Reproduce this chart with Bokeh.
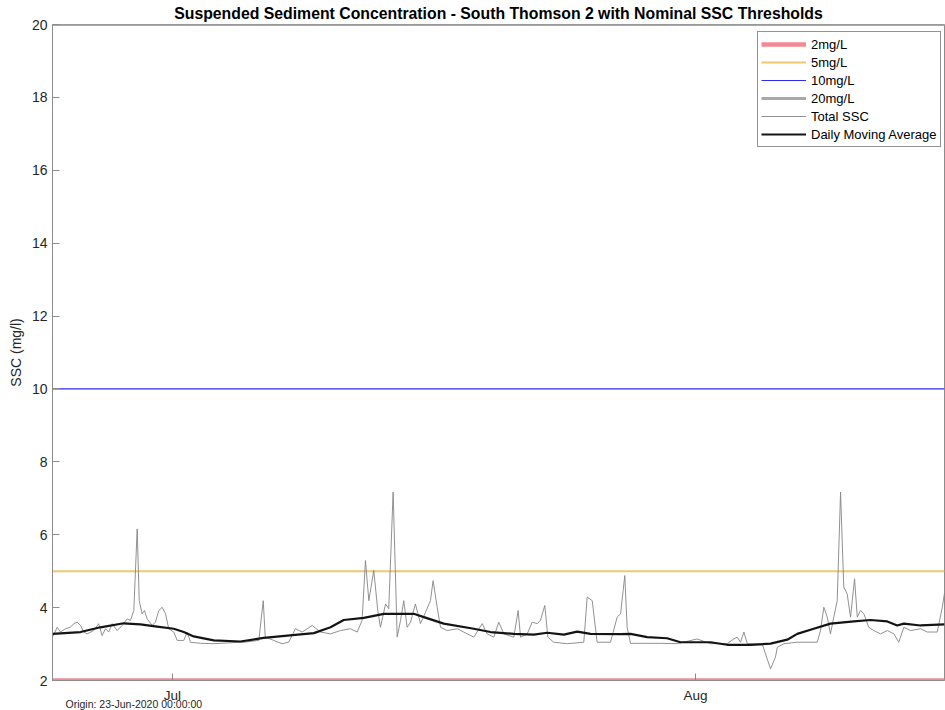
import pandas as pd
from bokeh.plotting import figure
from bokeh.models import Range1d, FixedTicker, Legend, LegendItem, Title
from bokeh.embed import file_html
from bokeh.resources import INLINE

# Time is stored as days since the origin below
origin_text = "23-Jun-2020 00:00:00"
origin = pd.Timestamp("2020-06-23 00:00:00")

ssc_days = [0.89, 1.17, 1.36, 1.66, 1.95, 2.15, 2.35, 2.55, 2.74, 2.94, 3.33, 3.63, 3.83, 4.03,
            4.22, 4.43, 4.72, 5.02, 5.31, 5.51, 5.71, 5.91, 6.03, 6.20, 6.34, 6.50, 6.80, 6.99,
            7.19, 7.39, 7.59, 7.78, 8.08, 8.28, 8.67, 8.87, 9.07, 9.66, 10.45, 12.03, 12.23,
            13.12, 13.38, 13.50, 14.00, 14.50, 14.89, 15.29, 15.69, 16.28, 16.77, 17.37, 17.96,
            18.55, 18.95, 19.24, 19.44, 19.64, 19.93, 20.17, 20.33, 20.63, 20.82, 21.08, 21.32,
            21.52, 21.71, 21.91, 22.11, 22.40, 22.70, 23.00, 23.29, 23.45, 23.69, 23.89, 24.28,
            24.88, 25.47, 25.86, 26.36, 26.65, 27.05, 27.34, 27.64, 28.23, 28.49, 28.63, 29.03,
            29.32, 29.62, 29.81, 30.07, 30.25, 30.60, 31.40, 32.38, 32.58, 32.88, 33.17, 33.96,
            34.36, 34.56, 34.81, 34.95, 35.15, 35.94, 36.93, 37.92, 39.10, 39.89, 40.88, 41.27,
            41.47, 41.67, 41.87, 42.07, 42.96, 43.15, 43.45, 43.74, 43.85, 44.24, 45.03, 46.22,
            46.41, 46.61, 46.81, 47.00, 47.20, 47.40, 47.60, 47.79, 47.99, 48.19, 48.43, 48.59,
            48.78, 48.98, 49.27, 49.57, 49.97, 50.37, 50.76, 51.05, 51.35, 51.75, 52.34, 52.74,
            53.33, 53.63, 53.76]
ssc_vals = [3.19, 3.46, 3.33, 3.42, 3.46, 3.56, 3.60, 3.51, 3.33, 3.28, 3.37, 3.56, 3.23, 3.42,
            3.33, 3.56, 3.37, 3.51, 3.69, 3.65, 3.92, 6.16, 4.19, 3.83, 3.92, 3.69, 3.51, 3.60,
            3.92, 4.01, 3.83, 3.42, 3.33, 3.10, 3.10, 3.33, 3.05, 3.02, 3.01, 3.05, 3.05,
            3.10, 4.19, 3.19, 3.10, 3.01, 3.05, 3.42, 3.33, 3.51, 3.33, 3.28, 3.37,
            3.42, 3.33, 3.65, 5.29, 4.19, 5.02, 3.92, 3.46, 4.10, 3.97, 7.17, 3.19,
            3.65, 4.19, 3.46, 3.60, 4.10, 3.56, 3.87, 4.19, 4.74, 4.01, 3.46, 3.37,
            3.42, 3.28, 3.19, 3.56, 3.28, 3.19, 3.60, 3.28, 3.19, 3.92, 3.19, 3.28,
            3.60, 3.56, 3.65, 4.06, 3.19, 3.05, 3.01, 3.05, 4.29, 4.19, 3.05, 3.05,
            3.74, 3.83, 4.88, 3.46, 3.02, 3.02, 3.02, 3.01, 3.14, 3.01, 3.01, 3.14,
            3.19, 3.05, 3.33, 3.01, 3.00, 2.73, 2.32, 2.64, 2.91, 3.01, 3.05, 3.05,
            3.37, 4.01, 3.74, 3.28, 3.74, 4.19, 7.17, 4.56, 4.38, 3.74, 4.79, 3.74,
            3.92, 3.83, 3.46, 3.37, 3.28, 3.37, 3.28, 3.05, 3.46, 3.37, 3.42, 3.33,
            3.33, 4.01, 4.40]

avg_days = [0.89, 2.55, 3.73, 5.11, 6.10, 7.09, 8.08, 8.67, 9.26, 10.45, 12.03, 13.41, 16.38,
            17.37, 18.15, 19.34, 20.53, 22.30, 22.90, 24.08, 25.86, 26.85, 28.23, 29.42, 30.21,
            31.20, 31.99, 32.78, 34.56, 35.15, 36.14, 37.32, 38.11, 39.89, 40.88, 42.26, 43.45,
            44.44, 45.03, 46.01, 47.00, 48.39, 49.37, 50.37, 50.96, 51.35, 52.34, 53.76]
avg_vals = [3.28, 3.33, 3.46, 3.57, 3.54, 3.48, 3.42, 3.33, 3.21, 3.10, 3.07, 3.17, 3.30,
            3.46, 3.66, 3.72, 3.83, 3.83, 3.74, 3.56, 3.42, 3.33, 3.28, 3.26, 3.31,
            3.26, 3.34, 3.28, 3.27, 3.28, 3.19, 3.16, 3.05, 3.05, 2.98, 2.98, 3.01,
            3.12, 3.28, 3.42, 3.56, 3.62, 3.66, 3.62, 3.51, 3.56, 3.51, 3.54]

threshold_vals = [2, 5, 10, 20]
threshold_names = ["2mg/L", "5mg/L", "10mg/L", "20mg/L"]
threshold_colors = ["#f28a94", "#ecc870", "#2b2bf5", "#a8a8a8"]
threshold_widths = [4.5, 2, 1.2, 3]

month_dates = ["2020-07-01", "2020-08-01"]
month_labels = ["Jul", "Aug"]
y_ticks = [2, 4, 6, 8, 10, 12, 14, 16, 18, 20]

FONT = "Liberation Sans"
AXIS_GREY = "#8c8c8c"
TEXT = "#262626"

month_pos = [(pd.Timestamp(d) - origin) / pd.Timedelta(days=1) for d in month_dates]
t0, t1 = ssc_days[0], ssc_days[-1]

p = figure(width=945, height=710, output_backend="svg", toolbar_location=None,
           x_range=Range1d(t0, t1), y_range=Range1d(min(y_ticks), max(y_ticks)),
           min_border_left=52, min_border_right=1, min_border_top=24, min_border_bottom=30,
           background_fill_color="white", border_fill_color="white")

p.title.text = "Suspended Sediment Concentration - South Thomson 2 with Nominal SSC Thresholds"
p.title.align = "center"
p.title.text_font = FONT
p.title.text_font_size = "15.8px"
p.title.text_font_style = "bold"
p.title.text_color = "#000000"
p.title.standoff = 5

p.xgrid.visible = False
p.ygrid.visible = False
p.outline_line_color = AXIS_GREY
p.outline_line_width = 1

for ax in (p.xaxis[0], p.yaxis[0]):
    ax.axis_line_color = AXIS_GREY
    ax.major_tick_line_color = AXIS_GREY
    ax.major_tick_in = 7
    ax.major_tick_out = 0
    ax.minor_tick_line_color = None
    ax.major_label_text_font = FONT
    ax.major_label_text_font_size = "14px"
    ax.major_label_text_color = TEXT

p.yaxis.ticker = FixedTicker(ticks=y_ticks)
p.yaxis.major_label_standoff = 5
p.yaxis.axis_label = "SSC (mg/l)"
p.yaxis.axis_label_text_font = FONT
p.yaxis.axis_label_text_font_size = "14px"
p.yaxis.axis_label_text_font_style = "normal"
p.yaxis.axis_label_text_color = TEXT
p.yaxis.axis_label_standoff = 5

p.xaxis.ticker = FixedTicker(ticks=month_pos)
p.xaxis.major_label_overrides = {pos: lab for pos, lab in zip(month_pos, month_labels)}
p.xaxis.major_label_standoff = 7
p.xaxis.major_label_text_font_size = "13.5px"

items = []
for v, name, col, w in zip(threshold_vals, threshold_names, threshold_colors, threshold_widths):
    r = p.line([t0, t1], [v, v], line_color=col, line_width=w)
    items.append(LegendItem(label=name, renderers=[r]))

r_ssc = p.line(ssc_days, ssc_vals, line_color="#858585", line_width=0.9)
r_avg = p.line(avg_days, avg_vals, line_color="#141414", line_width=2.2)
items.append(LegendItem(label="Total SSC", renderers=[r_ssc]))
items.append(LegendItem(label="Daily Moving Average", renderers=[r_avg]))

legend = Legend(items=items, location=(705, 533), margin=0, padding=3, spacing=0,
                glyph_width=45, glyph_height=18, label_height=18, label_standoff=5,
                label_text_font=FONT, label_text_font_size="13px", label_text_color="#000000",
                border_line_color="#262626", border_line_width=1,
                background_fill_color="white", background_fill_alpha=1)
p.add_layout(legend)

# datetime origin note under the time axis, tucked up beside the month labels
p.add_layout(Title(text="Origin: " + origin_text, align="left", vertical_align="top",
                   offset=13, standoff=-16,
                   text_font=FONT, text_font_size="10.5px", text_font_style="normal",
                   text_color=TEXT), "below")

open("out.html", "w").write(file_html(p, INLINE))
